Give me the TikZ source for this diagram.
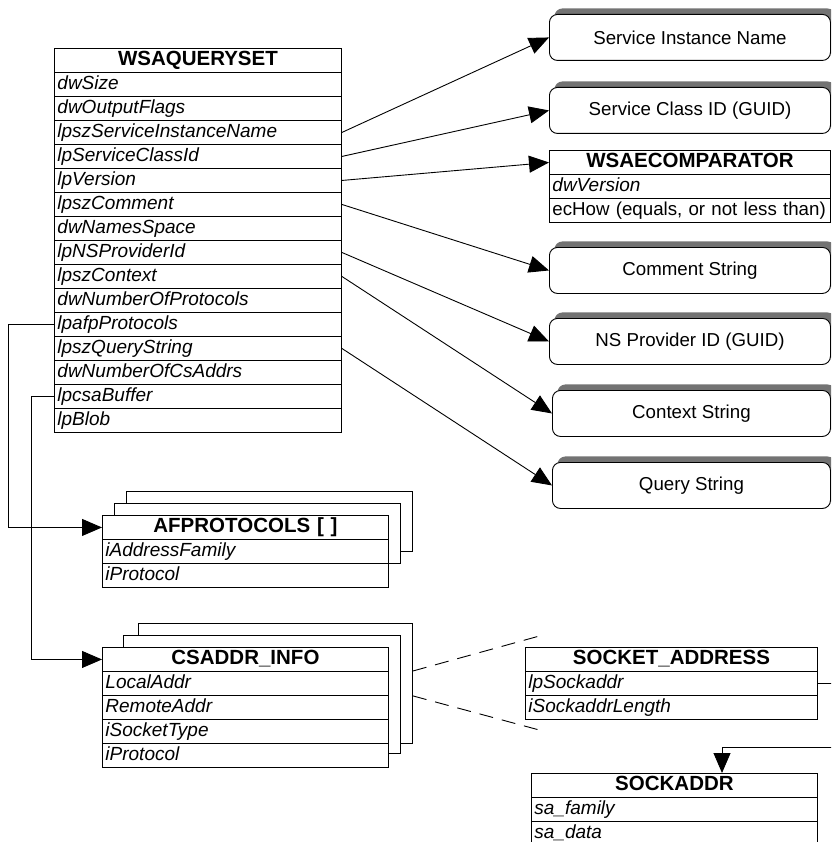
\documentclass[tikz,border=0pt]{standalone}
\usepackage{fontspec}
\setmainfont{Liberation Sans}
\usetikzlibrary{arrows.meta,shadows,calc}

\newcommand\fieldfont{\fontsize{19}{22}\selectfont\itshape}
\newcommand\headfont{\fontsize{20.5}{24}\selectfont\bfseries}
\newcommand\notefont{\fontsize{18.7}{22}\selectfont}

\begin{document}
\begin{tikzpicture}[x=1pt,y=-1pt,
  line width=0.9pt,
  every node/.style={inner sep=0pt},
  field/.style={draw, fill=white, rectangle, anchor=north west, minimum height=24pt,
    inner xsep=3pt, text width=#1, text height=14pt, text depth=4.5pt,
    align=left, font=\fieldfont},
  plainfield/.style={field=#1, font=\notefont},
  header/.style={draw, fill=white, rectangle, anchor=north west, minimum height=24pt,
    text width=#1, text height=15pt, text depth=4pt, align=center, font=\headfont},
  layer/.style={draw, fill=white, rectangle, anchor=north west},
  target/.style={draw, fill=white, rounded corners=8pt, anchor=north west,
    minimum height=46pt, font=\notefont,
    drop shadow={shadow xshift=5pt, shadow yshift=6pt, fill=black!55, opacity=1}},
  ptr/.style={-{Triangle[length=20pt,width=17pt]}},
  zoomline/.style={dash pattern=on 14pt off 9pt}
]
\clip (0,0) rectangle (831,842);

% ---- WSAQUERYSET record ----
\node[header=287pt] (q0) at (54,48) {WSAQUERYSET};
\foreach \f [count=\i] in {dwSize, dwOutputFlags, lpszServiceInstanceName,
    lpServiceClassId, lpVersion, lpszComment, dwNamesSpace, lpNSProviderId,
    lpszContext, dwNumberOfProtocols, lpafpProtocols, lpszQueryString,
    dwNumberOfCsAddrs, lpcsaBuffer, lpBlob}
  \node[field=281pt] (q\i) at (54,48+24*\i) {\f};

% ---- referenced strings and GUIDs ----
\node[target, minimum width=281pt] (sin) at (549,14) {Service Instance Name};
\node[target, minimum width=281pt] (sci) at (549,87) {Service Class ID (GUID)};
\node[target, minimum width=281pt] (cms) at (549,247) {Comment String};
\node[target, minimum width=281pt] (nsp) at (549,318) {NS Provider ID (GUID)};
\node[target, minimum width=278pt] (ctx) at (552,390) {Context String};
\node[target, minimum width=278pt] (qry) at (552,462) {Query String};

% ---- WSAECOMPARATOR record ----
\node[header=281pt] (ec0) at (549,150) {WSAECOMPARATOR};
\node[field=275pt] (ec1) at (549,174) {dwVersion};
\node[plainfield=275pt] (ec2) at (549,198) {ecHow (equals, or not less than)};

% ---- AFPROTOCOLS array ----
\node[layer, minimum width=286pt, minimum height=60pt] (afl3) at (126,491) {};
\node[layer, minimum width=286pt, minimum height=60pt] (afl2) at (114,503) {};
\node[header=286pt] (af0) at (102,515) {AFPROTOCOLS [ ]};
\node[field=280pt] (af1) at (102,539) {iAddressFamily};
\node[field=280pt] (af2) at (102,563) {iProtocol};

% ---- CSADDR_INFO array ----
\node[layer, minimum width=274pt, minimum height=120pt] (cil3) at (138,623) {};
\node[layer, minimum width=277pt, minimum height=118pt] (cil2) at (123,635) {};
\node[header=286pt] (ci0) at (102,647) {CSADDR\_INFO};
\node[field=280pt] (ci1) at (102,671) {LocalAddr};
\node[field=280pt] (ci2) at (102,695) {RemoteAddr};
\node[field=280pt] (ci3) at (102,719) {iSocketType};
\node[field=280pt] (ci4) at (102,743) {iProtocol};

% ---- SOCKET_ADDRESS record ----
\node[header=292pt] (sa0) at (525,647) {SOCKET\_ADDRESS};
\node[field=286pt] (sa1) at (525,671) {lpSockaddr};
\node[field=286pt] (sa2) at (525,695) {iSockaddrLength};

% ---- SOCKADDR record ----
\node[header=286pt] (sk0) at (531,773) {SOCKADDR};
\node[field=280pt] (sk1) at (531,797) {sa\_family};
\node[field=280pt] (sk2) at (531,821) {sa\_data};

% ---- pointers to the right-hand targets ----
\draw[ptr] (q3.east) -- (sin.west);
\draw[ptr] (q4.east) -- (sci.west);
\draw[ptr] (q5.east) -- (ec0.west);
\draw[ptr] (q6.east) -- (cms.west);
\draw[ptr] (q8.east) -- (nsp.west);
\draw[ptr] (q9.east) -- (ctx.west);
\draw[ptr] (q12.east) -- (qry.west);

% ---- pointers to the arrays ----
\coordinate (afx) at (8,0);
\coordinate (cix) at (31,0);
\draw[ptr] (q11.west) -- (q11.west -| afx) |- (af0.west);
\draw[ptr] (q14.west) -- (q14.west -| cix) |- (ci0.west);

% ---- detail of one address ----
\coordinate (zoomtop) at (543,635);
\coordinate (zoombot) at (543,731);
\draw[zoomline] (cil3.east |- ci1.north) -- (zoomtop);
\draw[zoomline] (cil3.east |- ci1.south) -- (zoombot);

% ---- lpSockaddr to SOCKADDR ----
\coordinate (sockturn) at (840,747.5);
\draw[ptr] (sa1.east) -| (sockturn) -| ([xshift=191pt]sk0.north west);
\end{tikzpicture}
\end{document}
